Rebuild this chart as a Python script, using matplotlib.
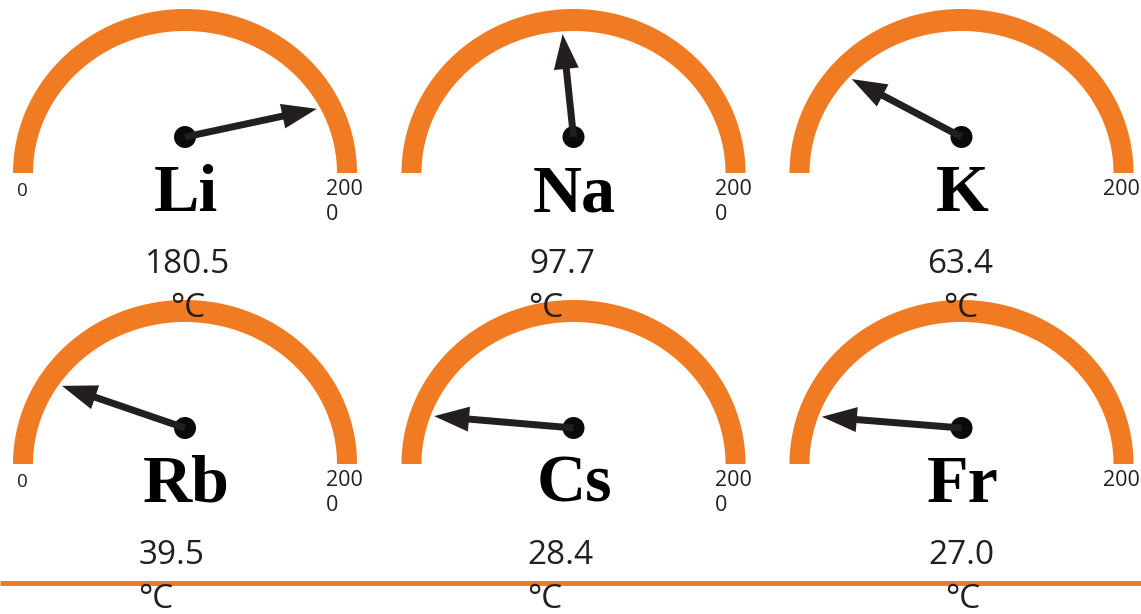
import numpy as np
import matplotlib
matplotlib.use("Agg")
import matplotlib.pyplot as plt
from matplotlib.patches import Polygon, Circle

# ---- data ----
elements = ["Li", "Na", "K", "Rb", "Cs", "Fr"]
melting_points = [180.5, 97.7, 63.4, 39.5, 28.4, 27.0]   # label values (°C)
needle_readings = [186.6, 93.3, 30.9, 21.0, 5.4, 5.1]     # needle position on the dial
scale_min_label = "0"
scale_max_label = "200"
unit_label = "°C"
scale_max = 200.0

# ---- layout (pixels) ----
W, H = 1141, 614
col_cx = [185.0, 573.5, 961.5]
row_base = [173.0, 464.0]
rx_o, ry_o = 172.0, 164.0
rx_i, ry_i = 152.0, 142.0
pivot_up = 36.0
orange = "#F07B23"
ink = "#231F20"
# per-gauge value/unit text centers (x) - the original flow layout is irregular
value_cx = [187.5, 562.0, 960.0, 172.0, 560.0, 961.0]
unit_cx = [188.0, 546.0, 961.0, 156.0, 545.0, 963.0]

fig = plt.figure(figsize=(W / 100, H / 100), dpi=100)
ax = fig.add_axes([0, 0, 1, 1])
ax.set_xlim(0, W)
ax.set_ylim(H, 0)
ax.axis("off")

num_font = ["Open Sans", "DejaVu Sans"]

for i, (el, mp, rd) in enumerate(zip(elements, melting_points, needle_readings)):
    r, c = divmod(i, 3)
    cx, by = col_cx[c], row_base[r]
    # arc band
    th = np.linspace(0, np.pi, 200)
    outer = np.column_stack([cx + rx_o * np.cos(th), by - ry_o * np.sin(th)])
    inner = np.column_stack([cx + rx_i * np.cos(th[::-1]), by - ry_i * np.sin(th[::-1])])
    ax.add_patch(Polygon(np.vstack([outer, inner]), closed=True, fc=orange, ec="none", zorder=1))

    # needle
    px, py = cx, by - pivot_up
    a = np.pi * (1 - rd / scale_max)
    dx, dy = np.cos(a), -np.sin(a)
    # intersect with inner ellipse
    ox, oy = 0.0, -pivot_up
    A = (dx / rx_i) ** 2 + (dy / ry_i) ** 2
    B = 2 * (ox * dx / rx_i ** 2 + oy * dy / ry_i ** 2)
    C = (ox / rx_i) ** 2 + (oy / ry_i) ** 2 - 1
    t = (-B + np.sqrt(B * B - 4 * A * C)) / (2 * A)
    L = t * 0.975
    ax.add_patch(Circle((px, py), 11, fc="#0a0a0a", ec="none", zorder=3))
    ax.arrow(px, py, dx * L, dy * L, width=7, head_width=25, head_length=35,
             length_includes_head=True, fc=ink, ec="none", zorder=4)

    # symbol
    ax.text(cx + 1, by + 38, el, ha="center", va="baseline", fontsize=49,
            fontweight="bold", family=["Liberation Serif", "DejaVu Serif"], color="black", zorder=5)
    # value and unit
    ax.text(value_cx[i], by + 100, f"{mp:.1f}", ha="center", va="baseline", fontsize=24,
            family=num_font, color=ink, zorder=5)
    ax.text(unit_cx[i], by + 144, unit_label, ha="center", va="baseline", fontsize=24,
            family=num_font, color=ink, zorder=5)

    # scale labels
    if c == 0:
        ax.text(cx - 168, by + 23, scale_min_label, ha="left", va="baseline", fontsize=13.5,
                family=num_font, color=ink, zorder=5)
    else:
        # min label of this gauge flows under the max label of the previous one
        ax.text(col_cx[c - 1] + 141, by + 47, scale_min_label, ha="left", va="baseline",
                fontsize=15.5, family=num_font, color=ink, zorder=5)
    ax.text(cx + 141, by + 22, scale_max_label, ha="left", va="baseline", fontsize=15.5,
            family=num_font, color=ink, zorder=5)

ax.plot([0, W], [583, 583], color=orange, lw=3.6, solid_capstyle="butt", zorder=2)

fig.savefig("out.png", dpi=100)
